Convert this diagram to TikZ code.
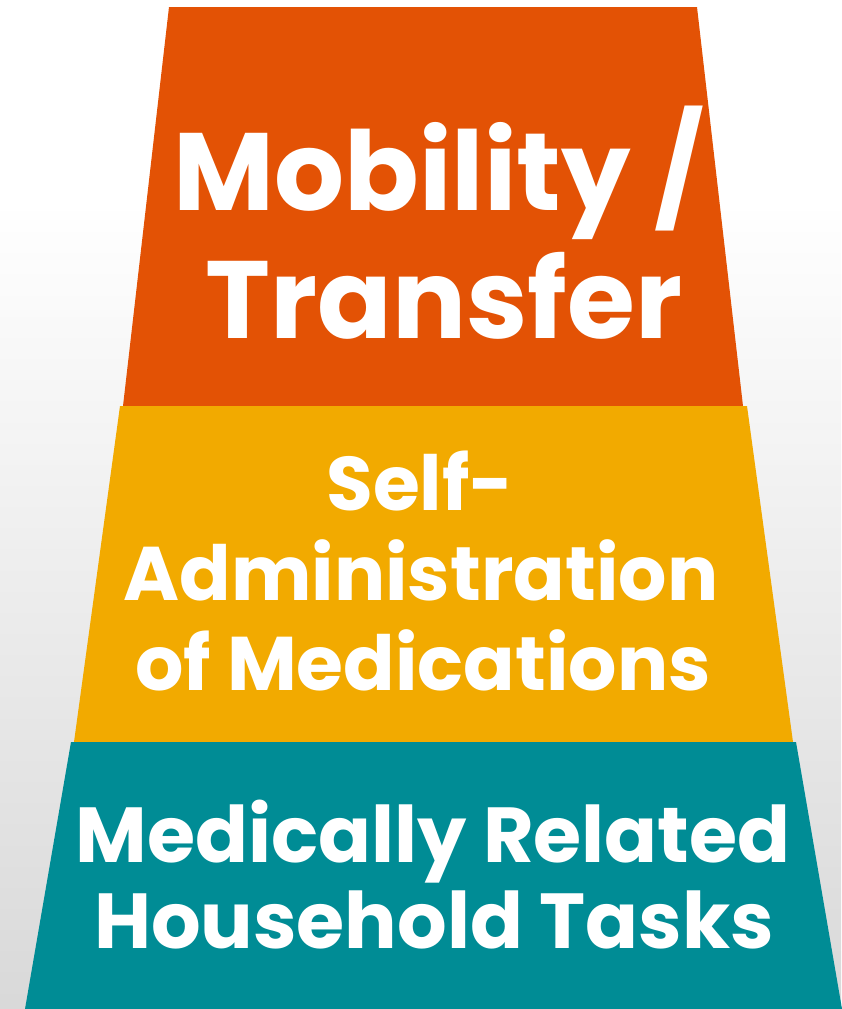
\documentclass[tikz,border=0pt]{standalone}
\usepackage{fontspec}
\setmainfont{Poppins}
\usetikzlibrary{positioning}

\definecolor{mobOrange}{HTML}{E35205}
\definecolor{medYellow}{HTML}{F2AA00}
\definecolor{taskTeal}{HTML}{008C95}

\tikzset{
  tiertext/.style={text=white, font=\bfseries, inner sep=0pt, anchor=base},
  bigtier/.style={tiertext, font=\bfseries\fontsize{110}{128}\selectfont},
  midtier/.style={tiertext, font=\bfseries\fontsize{76}{88}\selectfont},
  lowtier/.style={tiertext, font=\bfseries\fontsize{78}{86}\selectfont}
}

\begin{document}
\begin{tikzpicture}[x=1pt,y=-1pt]
  \useasboundingbox (0,0) rectangle (841,1009);
  % backdrop, white fading to light grey
  \fill[white] (0,0) rectangle (841,200);
  \shade[top color=white, bottom color=black!15] (0,200) rectangle (841,1009);

  % the three tiers
  \fill[mobOrange] (169,7) -- (697,7) -- (743,406) -- (123,406) -- cycle;
  \fill[medYellow] (120,406) -- (747,406) -- (793,742) -- (74,742) -- cycle;
  \fill[taskTeal] (71,742) -- (796,742) -- (842,1009) -- (25,1009) -- cycle;

  % top tier
  \node[bigtier] (mobility) at (439,210) {Mobility /};
  \node[bigtier] (transfer) at (444,338) {Transfer};

  % middle tier
  \node[midtier] (self) at (420,510) {Self-};
  \node[midtier] (admin) at (421,600) {Administration};
  \node[midtier] (meds) at (423,690) {of Medications};

  % bottom tier
  \node[lowtier] (medrel) at (433,862) {Medically Related};
  \node[lowtier] (house) at (434,948) {Household Tasks};
\end{tikzpicture}
\end{document}
